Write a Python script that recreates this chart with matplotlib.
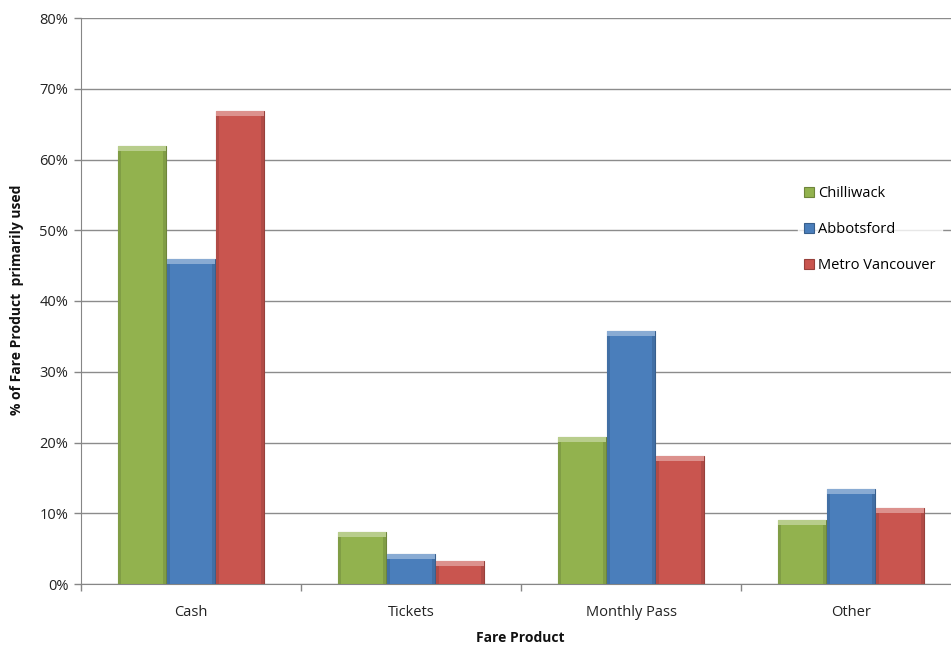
import matplotlib
matplotlib.use("Agg")
import matplotlib.pyplot as plt
from matplotlib.patches import Rectangle
from matplotlib.colors import to_rgb
import numpy as np

categories = ["Cash", "Tickets", "Monthly Pass", "Other"]
series_names = ["Chilliwack", "Abbotsford", "Metro Vancouver"]
chilliwack = [61.9, 7.4, 20.8, 9.0]
abbotsford = [46.0, 4.2, 35.8, 13.4]
metro_vancouver = [66.8, 3.3, 18.1, 10.7]
y_ticks = [0, 10, 20, 30, 40, 50, 60, 70, 80]

colors = ["#92B24E", "#4A7EBB", "#C9554F"]

plt.rcParams["font.family"] = ["Open Sans", "DejaVu Sans"]

fig = plt.figure(figsize=(9.51, 6.45), dpi=100)
W, H = 951, 645
# axes spans the category area; the right end runs slightly past the canvas
ax = fig.add_axes([81 / W, 1 - 584 / H, (961 - 81) / W, (584 - 18) / H])

x = np.arange(len(categories))
bw = 0.218
step = 0.224
values = [chilliwack, abbotsford, metro_vancouver]


def lighten(c, f):
    r, g, b = to_rgb(c)
    return (r + (1 - r) * f, g + (1 - g) * f, b + (1 - b) * f)


def darken(c, f):
    r, g, b = to_rgb(c)
    return (r * (1 - f), g * (1 - f), b * (1 - f))


for i, (vals, name, col) in enumerate(zip(values, series_names, colors)):
    bars = ax.bar(x + (i - 1) * step, vals, width=bw, color=col,
                  edgecolor=darken(col, 0.25), linewidth=0.8, label=name,
                  zorder=3)
    # bevel highlight along the top of each bar
    for p in bars:
        bx, by = p.get_x(), p.get_y()
        bwid, bh = p.get_width(), p.get_height()
        cap = 0.7
        ax.add_patch(Rectangle((bx, by + bh - cap), bwid, cap,
                               facecolor=lighten(col, 0.35), edgecolor="none",
                               zorder=4))
        ax.add_patch(Rectangle((bx, by), bwid * 0.06, bh - cap,
                               facecolor=darken(col, 0.12), edgecolor="none",
                               zorder=4))
        ax.add_patch(Rectangle((bx + bwid * 0.94, by), bwid * 0.06, bh - cap,
                               facecolor=darken(col, 0.12), edgecolor="none",
                               zorder=4))

ax.set_xlim(-0.5, 3.5)
ax.set_ylim(0, 80)
ax.set_yticks(y_ticks)
ax.set_yticklabels([f"{v}%" for v in y_ticks])
ax.set_xticks(x)
ax.set_xticklabels(categories)
ax.set_xticks(np.arange(-0.5, 4.0, 1.0), minor=True)
ax.tick_params(axis="x", which="major", length=0, pad=15, labelsize=10.5,
               colors="#222222")
ax.tick_params(axis="x", which="minor", length=5, color="#868686", width=1)
ax.tick_params(axis="y", length=5, color="#868686", width=1, labelsize=10.5,
               pad=4, colors="#222222")

ax.yaxis.grid(True, color="#8c8c8c", linewidth=1, zorder=0)
ax.set_axisbelow(True)
for s in ["top", "right"]:
    ax.spines[s].set_visible(False)
ax.spines["left"].set_color("#868686")
ax.spines["bottom"].set_color("#868686")

fig.text(17 / W, 1 - 300 / H, "% of Fare Product  primarily used",
         rotation=90, ha="center", va="center", fontsize=10,
         fontweight="bold", color="#111111")
fig.text(520 / W, 1 - 638 / H, "Fare Product", ha="center", va="center",
         fontsize=10, fontweight="bold", color="#111111")

leg = fig.legend(loc="upper left", bbox_to_anchor=(798 / W, 1 - 180 / H),
                 frameon=True, fontsize=10.5, handlelength=0.7,
                 handleheight=0.7, handletextpad=0.3, labelspacing=1.45,
                 borderaxespad=0, borderpad=0.4, fancybox=False)
leg.get_frame().set_facecolor("white")
leg.get_frame().set_edgecolor("white")
leg.set_zorder(10)

fig.savefig("out.png", dpi=100)
